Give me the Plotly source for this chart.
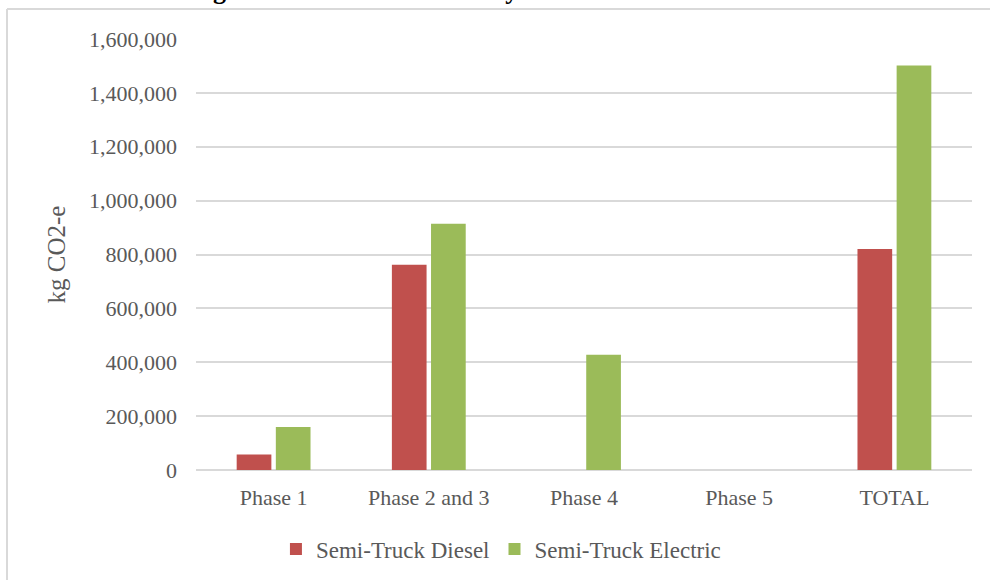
import plotly.graph_objects as go

# Life-cycle emission phases and the two semi-truck drivetrains (kg CO2-e)
phases = ["Phase 1", "Phase 2 and 3", "Phase 4", "Phase 5", "TOTAL"]
diesel = [58000, 762000, 0, 0, 820000]
electric = [160000, 914000, 428000, 0, 1502000]
y_ticks = [0, 200000, 400000, 600000, 800000, 1000000, 1200000, 1400000, 1600000]

SERIF = "Liberation Serif"
GREY_TEXT = "#595959"
GRID = "#d9d9d9"

fig = go.Figure()
fig.add_trace(go.Bar(name="Semi-Truck Diesel", x=phases, y=diesel,
                     marker=dict(color="#C0504D", line=dict(width=0))))
fig.add_trace(go.Bar(name="Semi-Truck Electric", x=phases, y=electric,
                     marker=dict(color="#9BBB59", line=dict(width=0))))

# plot-area geometry in pixels, used to place the frame and heading
W, H = 990, 580
L, R, T, B = 196, 18, 39, 110
pw, ph = W - L - R, H - T - B


def px_x(x):
    return (x - L) / pw


def px_y(y):
    return (H - B - y) / ph


fig.update_layout(
    width=W, height=H,
    margin=dict(l=L, r=R, t=T, b=B, autoexpand=False),
    paper_bgcolor="white", plot_bgcolor="white",
    barmode="group", bargap=0.4955, bargroupgap=0.114,
    font=dict(family=SERIF, color=GREY_TEXT),
    showlegend=True,
    legend=dict(orientation="h", xref="container", yref="container",
                x=0.506, xanchor="center", y=1 - 549 / H, yanchor="middle",
                font=dict(family=SERIF, size=23, color=GREY_TEXT),
                bgcolor="rgba(0,0,0,0)"),
    xaxis=dict(showgrid=False, showline=False, zeroline=False,
               ticks="", ticklabelstandoff=12,
               tickfont=dict(family=SERIF, size=22, color=GREY_TEXT)),
    yaxis=dict(range=[0, 1600000], tickvals=y_ticks, tickformat=",d",
               showgrid=True, gridcolor=GRID, gridwidth=1.5,
               zeroline=True, zerolinecolor=GRID, zerolinewidth=1.5,
               showline=False, ticks="", ticklabelstandoff=18,
               tickfont=dict(family=SERIF, size=22, color=GREY_TEXT),
               title=dict(text="kg CO2-e", standoff=16,
                          font=dict(family=SERIF, size=25, color=GREY_TEXT))),
)

# outer frame: left and top edges of the chart box
fig.add_shape(type="line", xref="paper", yref="paper",
              x0=px_x(7), x1=px_x(7), y0=px_y(H + 5), y1=px_y(9),
              line=dict(color=GRID, width=2))
fig.add_shape(type="line", xref="paper", yref="paper",
              x0=px_x(7), x1=px_x(W + 5), y0=px_y(9), y1=px_y(9),
              line=dict(color=GRID, width=2))

# document heading above the chart box (only its lower edge lies on the page)
fig.add_annotation(text="<b>Figure 4: Semi-Truck Life Cycle Emissions in Each State</b>",
                   xref="paper", yref="paper", x=px_x(505), y=px_y(-10),
                   xanchor="center", yanchor="middle", showarrow=False,
                   font=dict(family=SERIF, size=26, color="black"))

fig.write_html("out.html")
